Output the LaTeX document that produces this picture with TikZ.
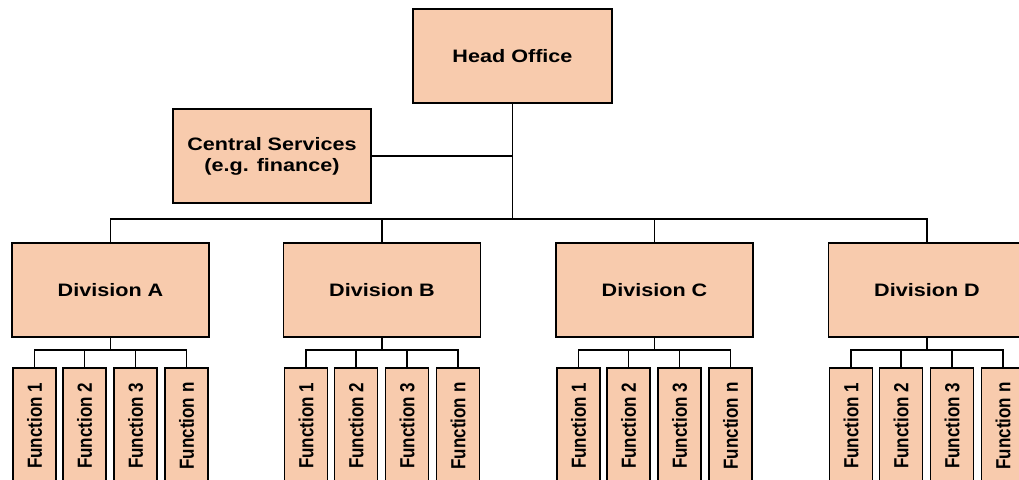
\documentclass[tikz,border=0pt]{standalone}
\usepackage{fontspec}
\setmainfont{Liberation Sans}
\newfontfamily\widefont{Liberation Sans}[FakeStretch=1.2]
\definecolor{peach}{HTML}{F8CBAD}

\begin{document}
\begin{tikzpicture}[x=1pt, y=-1pt, line width=1.5pt]
		\tikzset{
		    bnode/.style= {rectangle, draw=black, fill=peach, inner sep=0pt, align=center, minimum width=197pt, minimum height=94pt, font=\widefont\bfseries\fontsize{18}{21}\selectfont},
		    fnode/.style= {rectangle, draw=black, fill=peach, inner sep=0pt, rotate=90, yscale=1.2, minimum width=116pt, minimum height=35.8pt, font=\bfseries\fontsize{17}{20}\selectfont},
		}
		\useasboundingbox (0,0) rectangle (1019,479);
		
		\node[bnode, minimum width=199pt] (ho) at (512.5, 56) {Head Office};
		\node[bnode, minimum width=198pt] (cs) at (272, 156) {Central Services\\(e.g. finance)};
		
		\node[bnode] (dA) at (110.5, 290) {Division A};
		\node[bnode] (dB) at (382, 290) {Division B};
		\node[bnode] (dC) at (654.5, 290) {Division C};
		\node[bnode] (dD) at (927, 290) {Division D};
		
		\node[fnode] (fA1) at (34.5, 426) {Function 1};
		\node[fnode] (fA2) at (84.5, 426) {Function 2};
		\node[fnode] (fA3) at (135.5, 426) {Function 3};
		\node[fnode] (fA4) at (186.5, 426) {Function n};
		
		\node[fnode] (fB1) at (306, 426) {Function 1};
		\node[fnode] (fB2) at (356, 426) {Function 2};
		\node[fnode] (fB3) at (407, 426) {Function 3};
		\node[fnode] (fB4) at (458, 426) {Function n};
		
		\node[fnode] (fC1) at (578.5, 426) {Function 1};
		\node[fnode] (fC2) at (628.5, 426) {Function 2};
		\node[fnode] (fC3) at (679.5, 426) {Function 3};
		\node[fnode] (fC4) at (730.5, 426) {Function n};
		
		\node[fnode] (fD1) at (851, 426) {Function 1};
		\node[fnode] (fD2) at (901, 426) {Function 2};
		\node[fnode] (fD3) at (952, 426) {Function 3};
		\node[fnode] (fD4) at (1003, 426) {Function n};
		
		\coordinate (bus) at (512.5, 219);
		\coordinate (busA) at (110.5, 350);
		\coordinate (busB) at (382, 350);
		\coordinate (busC) at (654.5, 350);
		\coordinate (busD) at (927, 350);
		
		\draw (ho.south) -- (bus);
		\draw (cs.east) -- (cs.east -| ho.south);
		\draw (bus) -| (dA.north);
		\draw (bus) -| (dB.north);
		\draw (bus) -| (dC.north);
		\draw (bus) -| (dD.north);
		
		\draw (dA.south) -- (busA);
		\draw (fA1.east) |- (busA) -| (fA4.east);
		\draw (fA2.east) -- (fA2.east |- busA);
		\draw (fA3.east) -- (fA3.east |- busA);
		
		\draw (dB.south) -- (busB);
		\draw (fB1.east) |- (busB) -| (fB4.east);
		\draw (fB2.east) -- (fB2.east |- busB);
		\draw (fB3.east) -- (fB3.east |- busB);
		
		\draw (dC.south) -- (busC);
		\draw (fC1.east) |- (busC) -| (fC4.east);
		\draw (fC2.east) -- (fC2.east |- busC);
		\draw (fC3.east) -- (fC3.east |- busC);
		
		\draw (dD.south) -- (busD);
		\draw (fD1.east) |- (busD) -| (fD4.east);
		\draw (fD2.east) -- (fD2.east |- busD);
		\draw (fD3.east) -- (fD3.east |- busD);
	\end{tikzpicture}
\end{document}
